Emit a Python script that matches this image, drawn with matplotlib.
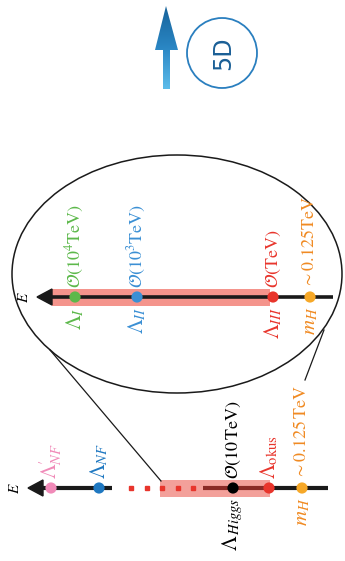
import numpy as np
import matplotlib
matplotlib.use("Agg")
import matplotlib.pyplot as plt
from matplotlib.patches import Polygon, Rectangle, Ellipse, Circle
from matplotlib.colors import LinearSegmentedColormap

plt.rcParams['mathtext.fontset'] = 'stix'
plt.rcParams['font.family'] = ['STIXGeneral', 'DejaVu Serif']

# upper (zoomed) energy line
upper_x = [75, 137, 273, 310]
upper_colors = ['#5cb84a', '#3a8fd4', '#e8352c', '#f6a828']
upper_text_colors = ['#5cb84a', '#3a8fd4', '#e8352c', '#f08a22']
upper_top = [r'$\mathcal{O}(10^4\mathrm{TeV})$', r'$\mathcal{O}(10^3\mathrm{TeV})$',
             r'$\mathcal{O}(\mathrm{TeV})$', r'$\sim 0.125\mathrm{TeV}$']
upper_bottom = [r'$\Lambda_{I}$', r'$\Lambda_{II}$', r'$\Lambda_{III}$', r'$m_H$']

# lower (full) energy line
lower_x = [51, 99, 233, 269, 302]
lower_colors = ['#f08ab8', '#1f78c1', '#000000', '#e8352c', '#f6a828']
lower_text_colors = ['#f08ab8', '#1f78c1', '#000000', '#e8352c', '#f08a22']
lower_top = [r"$\Lambda^{\prime}_{NF}$", r'$\Lambda_{NF}$', r'$\mathcal{O}(10\,\mathrm{TeV})$',
             r'$\Lambda_{\mathrm{okus}}$', r'$\sim 0.125\,\mathrm{TeV}$']
lower_bottom = ['', '', r'$\Lambda_{\,Higgs}$', '', r'$m_H$']

W, H = 345, 561
fig = plt.figure(figsize=(W / 100, H / 100), dpi=100)
ax = fig.add_axes([0, 0, 1, 1])
ax.set_xlim(0, W)
ax.set_ylim(H, 0)
ax.axis('off')

FS = 13
FS_SYM = 15


def labels(xs, y, tops, bottoms, colors):
    for x, t, b, c in zip(xs, tops, bottoms, colors):
        if t:
            fs = FS_SYM if t.startswith(r'$\Lambda') else FS
            ax.text(x, y - 9, t, rotation=90, rotation_mode='anchor', ha='left',
                    va='center', fontsize=fs, color=c)
        if b:
            ax.text(x, y + 10, b, rotation=90, rotation_mode='anchor', ha='right',
                    va='center', fontsize=FS_SYM, color=c)


# ---- upper line
yu = 297
ax.add_patch(Rectangle((52, yu - 8.5), 218, 17, color='#f4948c', lw=0, zorder=2))
ax.plot([50, 333], [yu, yu], color='#1a1a1a', lw=2.6, solid_capstyle='butt', zorder=3)
ax.add_patch(Polygon([[37, yu], [52, yu - 8], [52, yu + 8]], closed=True,
                     color='#1a1a1a', zorder=3))
ax.text(31, yu, r'$E$', rotation=90, rotation_mode='anchor', ha='center',
        va='bottom', fontsize=11)
ax.scatter(upper_x, [yu] * len(upper_x), s=65, c=upper_colors, zorder=4, lw=0)
labels(upper_x, yu, upper_top, upper_bottom, upper_text_colors)

# ---- lower line
yl = 488
ax.plot([43, 112], [yl, yl], color='#1a1a1a', lw=3, solid_capstyle='butt', zorder=3)
ax.add_patch(Polygon([[28, yl], [43, yl - 8], [43, yl + 8]], closed=True,
                     color='#1a1a1a', zorder=3))
ax.text(22, yl, r'$E$', rotation=90, rotation_mode='anchor', ha='center',
        va='bottom', fontsize=11)
ax.plot(np.linspace(131, 193, 5), [yl] * 5, ls='none', marker='s', ms=3,
        color='#e8352c', zorder=3)
ax.plot([203, 270], [yl, yl], color='#8a2a26', lw=3, solid_capstyle='butt', zorder=3)
ax.plot([270, 328], [yl, yl], color='#1a1a1a', lw=3, solid_capstyle='butt', zorder=3)
ax.add_patch(Rectangle((160, yl - 8.5), 110, 17, color='#f08078', alpha=0.75,
                       lw=0, zorder=2))
ax.scatter(lower_x, [yl] * len(lower_x), s=65, c=lower_colors, zorder=4, lw=0)
labels(lower_x, yl, lower_top, lower_bottom, lower_text_colors)

# ---- zoom ellipse and connectors
ax.add_patch(Ellipse((177, 274), 330, 238, fill=False, ec='#1a1a1a', lw=1.1, zorder=1))
ax.plot([161, 50], [481, 350], color='#1a1a1a', lw=0.9)
ax.plot([305, 324], [380, 330], color='#1a1a1a', lw=0.9)

# ---- gradient arrow and 5D circle
arrow = Polygon([[166, 6], [155, 50], [163, 50], [163, 89], [170, 89], [170, 50],
                 [178, 50]], closed=True, fc='none', ec='none')
ax.add_patch(arrow)
cmap = LinearSegmentedColormap.from_list('blu', ['#17639a', '#2a86c4', '#5cbcea'])
grad = np.linspace(0, 1, 100).reshape(-1, 1)
im = ax.imshow(grad, cmap=cmap, extent=[150, 182, 89, 6], aspect='auto', zorder=2)
im.set_clip_path(arrow)
ax.set_xlim(0, W)
ax.set_ylim(H, 0)

ax.add_patch(Circle((222, 53), 35, fill=False, ec='#2a7fbf', lw=1.3))
ax.text(223, 53, '5D', rotation=90, ha='center', va='center', fontsize=17,
        color='#1a5f96', family='DejaVu Sans')

fig.savefig('out.png', dpi=100)
